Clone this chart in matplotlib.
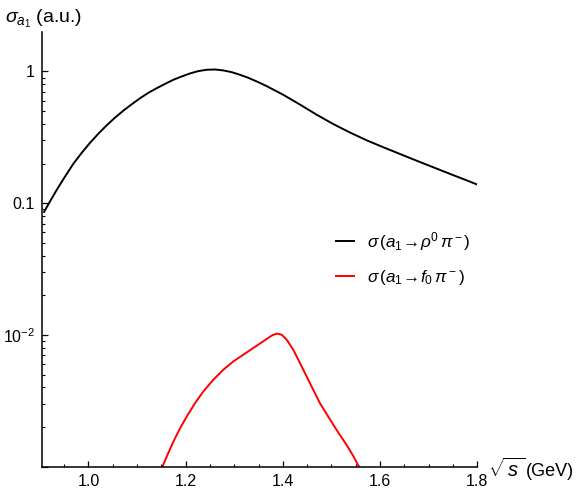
import matplotlib
matplotlib.use("Agg")
import matplotlib.pyplot as plt
import numpy as np

plt.rcParams['font.family'] = ['Liberation Sans', 'DejaVu Sans']
plt.rcParams['mathtext.fontset'] = 'custom'
plt.rcParams['mathtext.rm'] = 'Liberation Sans'
plt.rcParams['mathtext.it'] = 'Liberation Sans:italic'
plt.rcParams['mathtext.bf'] = 'Liberation Sans:bold'

# sqrt(s) in GeV and log10 of sigma
rho_s = [0.9089, 0.9213, 0.9350, 0.9521, 0.9692, 0.9864, 1.0035, 1.0206, 1.0378,
         1.0549, 1.0720, 1.0891, 1.1063, 1.1234, 1.1405, 1.1577, 1.1748, 1.1919,
         1.2090, 1.2262, 1.2433, 1.2604, 1.2776, 1.2947, 1.3118, 1.3289, 1.3495,
         1.3666, 1.4009, 1.4352, 1.4694, 1.5037, 1.5379, 1.5722, 1.6064, 1.6407,
         1.6750, 1.7092, 1.7435, 1.7777, 1.7983]
rho_log = [-1.066, -0.985, -0.898, -0.797, -0.700, -0.617, -0.541, -0.472, -0.408,
           -0.350, -0.297, -0.249, -0.203, -0.162, -0.127, -0.094, -0.063, -0.038,
           -0.015, 0.003, 0.013, 0.015, 0.008, -0.005, -0.025, -0.048, -0.081,
           -0.111, -0.177, -0.251, -0.328, -0.399, -0.463, -0.522, -0.575, -0.626,
           -0.677, -0.727, -0.777, -0.826, -0.856]

f0_s = [1.1480, 1.1508, 1.1611, 1.1748, 1.1885, 1.2022, 1.2193, 1.2364, 1.2570,
        1.2776, 1.2981, 1.3187, 1.3392, 1.3598, 1.3769, 1.3872, 1.3975, 1.4078,
        1.4214, 1.4352, 1.4489, 1.4626, 1.4763, 1.4934, 1.5105, 1.5311, 1.5448,
        1.5585, 1.5610]
f0_log = [-3.04, -3.013, -2.924, -2.810, -2.709, -2.620, -2.518, -2.429, -2.340,
          -2.264, -2.201, -2.150, -2.099, -2.048, -2.005, -1.990, -1.998, -2.036,
          -2.112, -2.213, -2.315, -2.417, -2.518, -2.620, -2.721, -2.835, -2.919,
          -3.013, -3.04]

xmajor = [1.0, 1.2, 1.4, 1.6, 1.8]
xlabels = ['1.0', '1.2', '1.4', '1.6', '1.8']
ymajor = [1e-3, 1e-2, 0.1, 1.0]
ylabels = ['', r'$10^{-2}$', '0.1', '1']

fig = plt.figure(figsize=(5.76, 4.94), dpi=100)
ax = fig.add_axes([0.0724, 0.0553, 0.7563, 0.8797])

ax.plot(rho_s, 10 ** np.array(rho_log), color='black', lw=1.4,
        label=r'$\sigma\,(a_1\!\rightarrow\!\rho^0\,\pi^-)$')
ax.plot(f0_s, 10 ** np.array(f0_log), color='#ff0000', lw=1.4,
        label=r'$\sigma\,(a_1\!\rightarrow\!f_0\,\pi^-)$')

ax.set_yscale('log')
ax.set_xlim(0.904, 1.8)
ax.set_ylim(1e-3, 1.99)

for s in ['top', 'right']:
    ax.spines[s].set_visible(False)
for s in ['left', 'bottom']:
    ax.spines[s].set_linewidth(1.1)

ax.set_xticks(xmajor)
ax.set_xticklabels(xlabels)
ax.set_xticks(np.arange(0.95, 1.8, 0.05), minor=True)
ax.set_yticks(ymajor)
ax.set_yticklabels(ylabels)
ymin = [m * 10.0 ** e for e in (-3, -2, -1) for m in range(2, 10)]
ax.set_yticks(ymin, minor=True)
ax.yaxis.set_minor_formatter(matplotlib.ticker.NullFormatter())

ax.tick_params(which='major', direction='in', length=4, width=0.9, labelsize=11.5, pad=5)
ax.tick_params(which='minor', direction='in', length=2.5, width=0.8)

fig.text(0.009, 0.962, r'$\sigma_{a_1}$ (a.u.)', fontsize=14, va='center', ha='left')
fig.text(0.847, 0.050, r'$\sqrt{\,s\,}$', fontsize=14.5, va='center', ha='left')
fig.text(0.913, 0.045, '(GeV)', fontsize=13, va='center', ha='left')

ax.legend(loc='center left', bbox_to_anchor=(0.64, 0.479), frameon=False,
          fontsize=12.3, handlelength=1.05, handletextpad=0.8, labelspacing=0.9)

fig.savefig('out.png', dpi=100)
